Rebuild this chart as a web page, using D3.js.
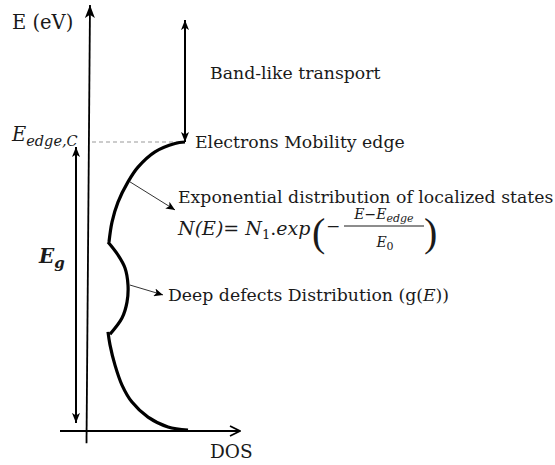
<!DOCTYPE html>
<html>
<head>
<meta charset="utf-8">
<script src="https://cdn.jsdelivr.net/npm/d3@7"></script>
<style>
  body { margin: 0; background: #fff; }
  svg text { font-family: "DejaVu Serif", "Liberation Serif", serif; fill: #1a1a1a; }
</style>
</head>
<body>
<div id="chart"></div>
<script>
// schematic DOS(E) curve, arbitrary units (DOS 0..15, E 0..10 where 10 = E_edge,C)
const expDos = [9.7, 8.7, 6.7, 5.0, 4.0, 3.0, 2.4, 2.1];
const expE   = [10.0, 9.95, 9.66, 9.13, 8.62, 7.92, 7.23, 6.54];

const defectDos = [2.0, 3.0, 3.7, 4.0, 3.9, 3.4, 2.2];
const defectE   = [6.54, 6.09, 5.64, 5.05, 4.46, 3.91, 3.35];

const tailDos = [2.0, 2.2, 2.7, 3.4, 4.4, 6.0, 8.0, 10.0];
const tailE   = [3.43, 2.98, 2.28, 1.59, 1.0, 0.48, 0.14, 0.03];

// axes / arrows, same units
const eAxisDos = [-0.15, 0.2];
const eAxisE   = [-0.42, 14.74];
const dosAxisDos = [-2.8, 15.2];
const egDos = -1.2;
const egE = [0.28, 9.83];
const bandDos = 9.7;
const bandE = [10.0, 14.22];
const edgeE = 10.0;
const edgeLineDos = [0.4, 9.5];

// pointers from curve to labels
const ptrExp = [[4.2, 8.62], [8.7, 7.65]];
const ptrDefect = [[4.2, 5.05], [7.5, 4.71]];

const labels = {
    eAxis: 'E (eV)',
    dosAxis: 'DOS',
    band: 'Band-like transport',
    edge: 'Electrons Mobility edge',
    expDist: 'Exponential distribution of localized states',
    defect: 'Deep defects Distribution (g('
};

const width = 555;
const height = 465;

const x = d3.scaleLinear().domain([0, 15]).range([88, 238]);
const y = d3.scaleLinear().domain([0, 10]).range([431, 142]);

const svg = d3.select('#chart')
    .append('svg')
    .attr('width', width)
    .attr('height', height);

// arrow heads
const defs = svg.append('defs');
function head(id, w, l) {
    defs.append('marker')
        .attr('id', id)
        .attr('viewBox', `0 ${-w / 2} ${l} ${w}`)
        .attr('refX', l)
        .attr('refY', 0)
        .attr('markerUnits', 'userSpaceOnUse')
        .attr('markerWidth', l)
        .attr('markerHeight', w)
        .attr('orient', 'auto-start-reverse')
        .append('path')
        .attr('d', `M0,${-w / 2}L${l},0L0,${w / 2}L${l * 0.25},0Z`)
        .attr('fill', '#000');
}
head('big', 10, 13);
head('mid', 8, 10);
head('small', 8, 9);

defs.append('marker')
    .attr('id', 'open')
    .attr('viewBox', '-1 -6 12 12')
    .attr('refX', 10)
    .attr('refY', 0)
    .attr('markerUnits', 'userSpaceOnUse')
    .attr('markerWidth', 12)
    .attr('markerHeight', 12)
    .attr('orient', 'auto')
    .append('path')
    .attr('d', 'M0,-5L10,0L0,5')
    .attr('fill', 'none')
    .attr('stroke', '#000')
    .attr('stroke-width', 1.8);

const line = d3.line().x(d => x(d[0])).y(d => y(d[1]));
const smooth = d3.line().curve(d3.curveCatmullRom.alpha(0.5)).x(d => x(d[0])).y(d => y(d[1]));

// E axis
svg.append('path')
    .datum(d3.zip(eAxisDos, eAxisE))
    .attr('d', line)
    .attr('stroke', '#000')
    .attr('stroke-width', 1.8)
    .attr('marker-end', 'url(#big)');

// DOS axis
svg.append('path')
    .datum(dosAxisDos.map(d => [d, 0]))
    .attr('d', line)
    .attr('stroke', '#000')
    .attr('stroke-width', 1.8)
    .attr('marker-end', 'url(#open)');

// band gap arrow
svg.append('path')
    .datum(egE.map(e => [egDos, e]))
    .attr('d', line)
    .attr('stroke', '#000')
    .attr('stroke-width', 2)
    .attr('marker-start', 'url(#mid)')
    .attr('marker-end', 'url(#mid)');

// band-like transport arrow
svg.append('path')
    .datum(bandE.map(e => [bandDos, e]))
    .attr('d', line)
    .attr('stroke', '#000')
    .attr('stroke-width', 2)
    .attr('marker-start', 'url(#mid)')
    .attr('marker-end', 'url(#mid)');

// mobility edge dashed line
svg.append('path')
    .datum(edgeLineDos.map(d => [d, edgeE]))
    .attr('d', line)
    .attr('stroke', '#999')
    .attr('stroke-width', 1)
    .attr('stroke-dasharray', '4,3');

// DOS curve segments
[d3.zip(expDos, expE), d3.zip(defectDos, defectE), d3.zip(tailDos, tailE)].forEach(seg => {
    svg.append('path')
        .datum(seg)
        .attr('d', smooth)
        .attr('fill', 'none')
        .attr('stroke', '#000')
        .attr('stroke-width', 3.2);
});

// pointers
[ptrExp, ptrDefect].forEach(p => {
    svg.append('path')
        .datum(p)
        .attr('d', line)
        .attr('stroke', '#333')
        .attr('stroke-width', 1)
        .attr('marker-end', 'url(#small)');
});

// text
const fs = 17.3;
svg.append('text').attr('x', 12).attr('y', 29).attr('font-size', 19.5).text(labels.eAxis);
svg.append('text').attr('x', 210).attr('y', 458).attr('font-size', 18.5).text(labels.dosAxis);
svg.append('text').attr('x', 210).attr('y', 79).attr('font-size', fs).text(labels.band);
svg.append('text').attr('x', 195).attr('y', 148).attr('font-size', fs).text(labels.edge);
svg.append('text').attr('x', 178).attr('y', 203).attr('font-size', fs).text(labels.expDist);

const deep = svg.append('text').attr('x', 168).attr('y', 301).attr('font-size', fs);
deep.append('tspan').text(labels.defect);
deep.append('tspan').attr('font-style', 'italic').text('E');
deep.append('tspan').text('))');

// E_edge,C label
const ee = svg.append('text').attr('x', 12).attr('y', 141).attr('font-size', 19.5).attr('font-style', 'italic');
ee.append('tspan').text('E');
ee.append('tspan').attr('dy', 5).attr('font-size', 14.5).text('edge,C');

// E_g label
const eg = svg.append('text').attr('x', 39).attr('y', 263).attr('font-size', 20)
    .attr('font-style', 'italic').attr('font-weight', 'bold');
eg.append('tspan').text('E');
eg.append('tspan').attr('dy', 5).attr('font-size', 15).text('g');

// formula
const f = svg.append('text').attr('x', 178).attr('y', 235).attr('font-size', 19);
f.append('tspan').attr('font-style', 'italic').text('N(E)');
f.append('tspan').text('= ');
f.append('tspan').attr('font-style', 'italic').text('N');
f.append('tspan').attr('dy', 4).attr('font-size', 13).text('1');
f.append('tspan').attr('dy', -4).text('.');
f.append('tspan').attr('font-style', 'italic').text('exp');

svg.append('text').attr('x', 312).attr('y', 246).attr('font-size', 40)
    .style('font-family', '"Liberation Serif", serif').text('(');
svg.append('text').attr('x', 326).attr('y', 232).attr('font-size', 17).text('\u2212');
const num = svg.append('text').attr('x', 384).attr('y', 219).attr('font-size', 14)
    .attr('font-style', 'italic').attr('text-anchor', 'middle');
num.append('tspan').text('E\u2212E');
num.append('tspan').attr('dy', 3).attr('font-size', 11).text('edge');
svg.append('line').attr('x1', 344).attr('x2', 424).attr('y1', 226).attr('y2', 226)
    .attr('stroke', '#1a1a1a').attr('stroke-width', 1);
const den = svg.append('text').attr('x', 385).attr('y', 247).attr('font-size', 14)
    .attr('font-style', 'italic').attr('text-anchor', 'middle');
den.append('tspan').text('E');
den.append('tspan').attr('dy', 3).attr('font-size', 11).attr('font-style', 'normal').text('0');
svg.append('text').attr('x', 424).attr('y', 246).attr('font-size', 40)
    .style('font-family', '"Liberation Serif", serif').text(')');
</script>
</body>
</html>
